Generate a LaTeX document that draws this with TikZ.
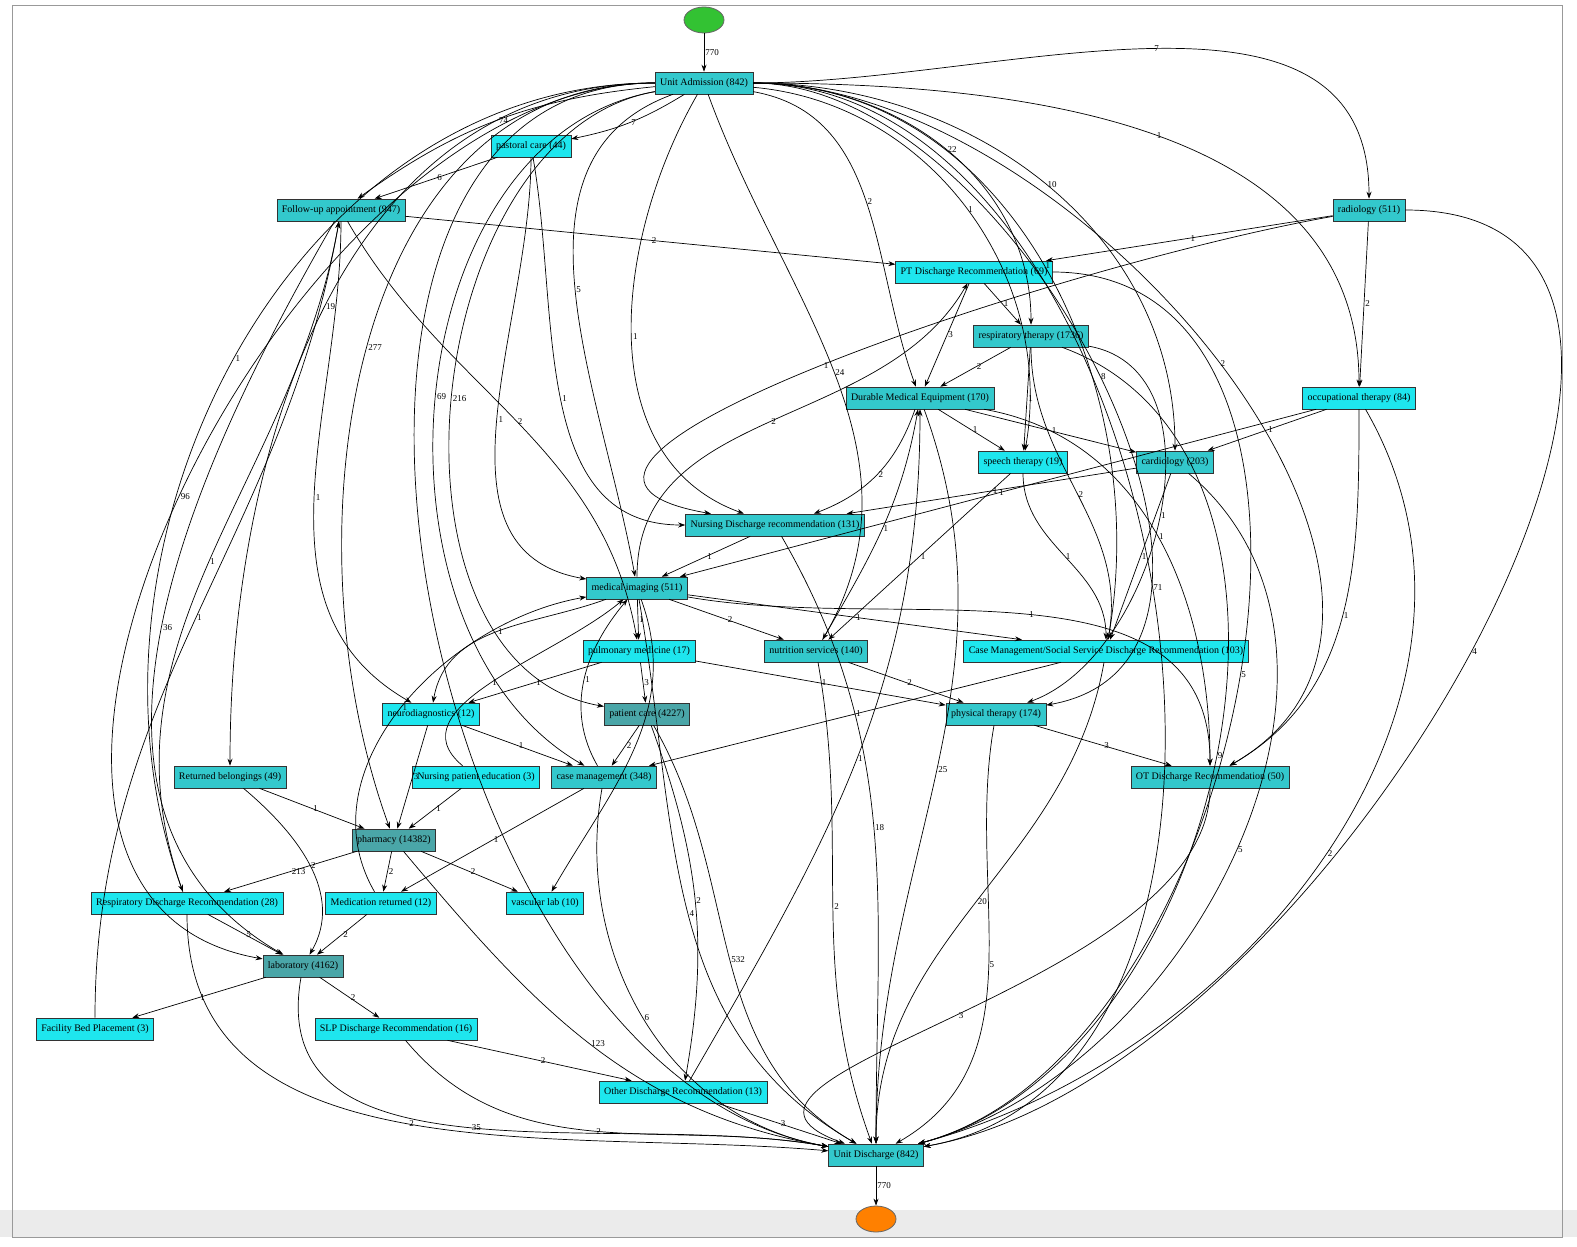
\documentclass[tikz,border=0pt]{standalone}
\usepackage{fontspec}
\setmainfont{Liberation Serif}
\usetikzlibrary{arrows.meta,shapes.geometric}
\begin{document}
\begin{tikzpicture}[x=0.5pt,y=-0.5pt,
  act/.style={draw=black!80,line width=0.3pt,rectangle,font=\fontsize{5}{6}\selectfont,inner xsep=2.5pt,inner ysep=1pt,minimum height=11pt},
  d/.style={act,fill=dk}, m/.style={act,fill=md}, b/.style={act,fill=br},
  arr/.style={-{Stealth[length=3.5pt,width=2.5pt]},black,line width=0.35pt},
  lbl/.style={font=\fontsize{4.5}{5}\selectfont,inner sep=0.5pt,right}]
\definecolor{dk}{HTML}{4AA6A8}\definecolor{md}{HTML}{33C8CC}\definecolor{br}{HTML}{1EE6EE}
\useasboundingbox (0,0) rectangle (1577,1246);
\fill[black!8] (0,1210) rectangle (1577,1237);
\draw[black!40,line width=0.3pt] (12,5) rectangle (1562,1237);
\newcommand\E[4][]{\draw[arr,#1] (#2) to node[lbl]{#4} (#3);}
% nodes
\node[ellipse,draw=black!60,fill=green!70!black!80,minimum width=20pt,minimum height=13pt] (s) at (704,20) {};
\node[ellipse,draw=black!60,fill=orange,minimum width=20pt,minimum height=13pt] (e) at (876,1219) {};
\node[m] (ua) at (704,83) {Unit Admission (842)};
\node[b] (pc) at (531,146) {pastoral care (44)};
\node[m] (fu) at (341,210) {Follow-up appointment (947)};
\node[m] (rad) at (1369,210) {radiology (511)};
\node[b] (ptd) at (974,272) {PT Discharge Recommendation (69)};
\node[m] (rt) at (1031,336) {respiratory therapy (1736)};
\node[m] (dme) at (920,398) {Durable Medical Equipment (170)};
\node[b] (ot) at (1359,398) {occupational therapy (84)};
\node[b] (st) at (1023,462) {speech therapy (19)};
\node[m] (car) at (1175,462) {cardiology (203)};
\node[m] (nd) at (775,525) {Nursing Discharge recommendation (131)};
\node[m] (mi) at (637,588) {medical imaging (511)};
\node[b] (pm) at (639,651) {pulmonary medicine (17)};
\node[m] (ns) at (816,651) {nutrition services (140)};
\node[b] (cm) at (1106,651) {Case Management/Social Service Discharge Recommendation (103)};
\node[b] (neu) at (431,714) {neurodiagnostics (12)};
\node[d] (pat) at (647,714) {patient care (4227)};
\node[m] (phy) at (996,714) {physical therapy (174)};
\node[m] (rb) at (230,777) {Returned belongings (49)};
\node[b] (npe) at (476,777) {Nursing patient education (3)};
\node[m] (cma) at (604,777) {case management (348)};
\node[m] (otd) at (1210,777) {OT Discharge Recommendation (50)};
\node[d] (ph) at (394,840) {pharmacy (14382)};
\node[b] (rd) at (187,903) {Respiratory Discharge Recommendation (28)};
\node[b] (mr) at (381,903) {Medication returned (12)};
\node[b] (vl) at (545,903) {vascular lab (10)};
\node[d] (lab) at (303,966) {laboratory (4162)};
\node[b] (fb) at (95,1029) {Facility Bed Placement (3)};
\node[b] (slp) at (396,1029) {SLP Discharge Recommendation (16)};
\node[b] (od) at (683,1092) {Other Discharge Recommendation (13)};
\node[m] (ud) at (876,1155) {Unit Discharge (842)};
% edges
\E{s}{ua}{770}
\E{ud}{e}{770}
\E[bend left=10]{ua}{pc}{7}
\E[bend right=15]{ua}{fu}{74}
\E{pc}{fu}{6}
\E[out=0,in=90]{ua}{rad}{7}
\E[out=0,in=90]{ua}{rt}{22}
\E[out=-10,in=110]{ua}{dme}{2}
\E[out=-5,in=80]{ua}{st}{1}
\E[out=0,in=90]{ua}{car}{10}
\E[out=0,in=80]{ua}{cm}{1}
\E[out=0,in=10]{ua}{phy}{8}
\E[out=0,in=90]{ua}{ot}{1}
\E[out=0,in=30]{ua}{otd}{2}
\E[out=0,in=10]{ua}{ud}{71}
\E[out=180,in=170]{ua}{ud}{}
\E[out=180,in=170]{ua}{lab}{96}
\E[out=180,in=110]{ua}{rd}{1}
\E[out=180,in=90]{ua}{rb}{19}
\E[out=180,in=110]{ua}{ph}{277}
\E[out=190,in=170]{ua}{pat}{216}
\E[out=190,in=150]{ua}{cma}{69}
\E[out=200,in=100]{ua}{mi}{5}
\E[out=240,in=160]{ua}{nd}{1}
\E[out=290,in=60]{ua}{ns}{24}
\E[out=270,in=170]{pc}{mi}{1}
\E[out=280,in=180]{pc}{nd}{1}
\E{fu}{ptd}{2}
\E[out=270,in=150]{fu}{neu}{1}
\E[out=300,in=100]{fu}{pm}{2}
\E[out=240,in=150]{fu}{lab}{36}
\E{rad}{ptd}{1}
\E{rad}{ot}{2}
\E[out=190,in=170]{rad}{nd}{1}
\E[out=0,in=10]{rad}{ud}{4}
\E{ptd}{rt}{1}
\E{ptd}{dme}{3}
\E[out=0,in=15]{ptd}{ud}{5}
\E{rt}{dme}{2}
\E{rt}{st}{1}
\E[out=270,in=80]{rt}{cm}{2}
\E[out=-20,in=15]{rt}{ud}{9}
\E[out=-10,in=20]{rt}{phy}{1}
\E{dme}{st}{1}
\E{dme}{car}{1}
\E[bend left=25]{dme}{nd}{2}
\E[out=290,in=90]{dme}{ud}{25}
\E[out=-10,in=90]{dme}{otd}{1}
\E[out=90,in=240]{mi}{ptd}{2}
\E{ot}{car}{1}
\E{ot}{mi}{1}
\E[out=270,in=30]{ot}{otd}{1}
\E[out=-60,in=15]{ot}{ud}{2}
\E[out=270,in=90]{st}{cm}{1}
\E{st}{ns}{1}
\E{car}{nd}{1}
\E{car}{cm}{1}
\E[out=-40,in=15]{car}{ud}{5}
\E{nd}{mi}{1}
\E[out=-60,in=90]{nd}{ud}{18}
\E{mi}{pm}{1}
\E{mi}{ns}{2}
\E{mi}{cm}{1}
\E[out=-10,in=90]{mi}{otd}{1}
\E[out=-80,in=150]{mi}{ud}{4}
\E[out=200,in=80]{mi}{neu}{1}
\E[out=-70,in=60]{mi}{vl}{}
\E{pm}{pat}{3}
\E{pm}{neu}{1}
\E{pm}{phy}{1}
\E[out=60,in=-100]{ns}{dme}{1}
\E[out=-80,in=110]{ns}{ud}{2}
\E{ns}{phy}{2}
\E[out=260,in=90]{cm}{ud}{20}
\E{cm}{cma}{1}
\E{neu}{ph}{3}
\E{neu}{cma}{1}
\E{pat}{cma}{2}
\E[out=-60,in=150]{pat}{ud}{532}
\E[out=-70,in=80]{pat}{od}{2}
\E{phy}{otd}{3}
\E[out=260,in=30]{phy}{ud}{5}
\E{rb}{ph}{1}
\E[out=-40,in=60]{rb}{lab}{2}
\E{npe}{ph}{1}
\E[out=120,in=230]{cma}{mi}{1}
\E{cma}{mr}{1}
\E[out=260,in=170]{cma}{ud}{6}
\E[out=270,in=160]{otd}{ud}{3}
\E{ph}{rd}{213}
\E{ph}{mr}{2}
\E{ph}{vl}{2}
\E[out=-50,in=170]{ph}{ud}{123}
\E[out=140,in=220]{npe}{mi}{1}
\E{rd}{lab}{5}
\E[out=270,in=175]{rd}{ud}{2}
\E[out=110,in=260]{rd}{fu}{1}
\E[out=90,in=260]{fb}{fu}{1}
\E{mr}{lab}{2}
\E[out=120,in=190]{mr}{mi}{1}
\E{lab}{fb}{1}
\E{lab}{slp}{2}
\E[out=260,in=170]{lab}{ud}{35}
\E{slp}{od}{2}
\E[out=-50,in=170]{slp}{ud}{2}
\E{od}{ud}{3}
\E[out=60,in=-90]{od}{dme}{1}
\end{tikzpicture}
\end{document}
